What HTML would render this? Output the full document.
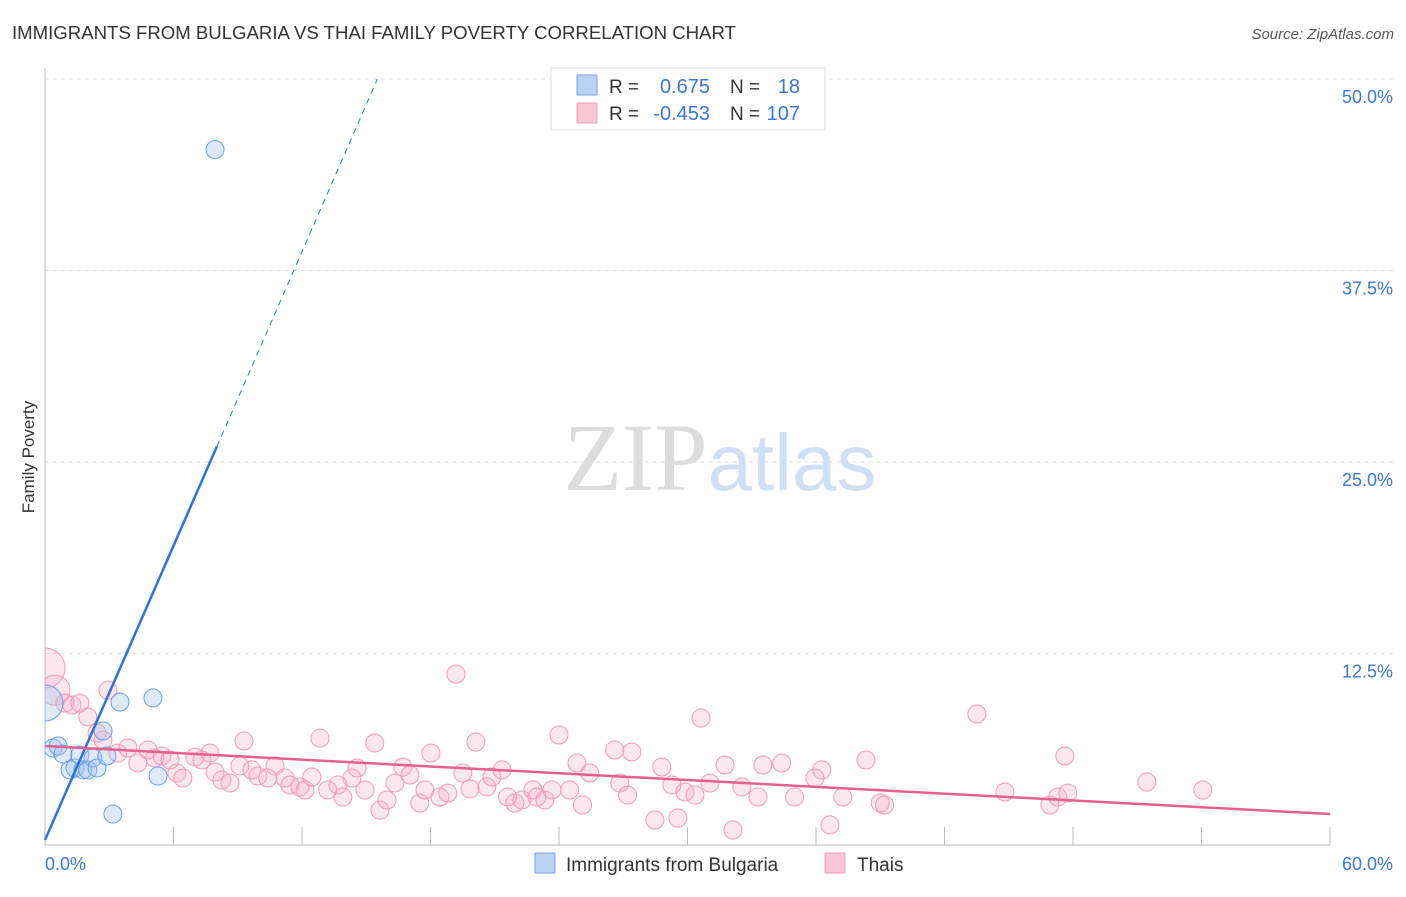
<!DOCTYPE html>
<html><head><meta charset="utf-8"><style>
body{margin:0;background:#fff;font-family:"Liberation Sans",sans-serif;}
svg text{font-family:"Liberation Sans",sans-serif;}
</style></head><body>
<svg id="chart" width="1406" height="892" xmlns="http://www.w3.org/2000/svg">
<defs><clipPath id="plotclip"><rect x="45" y="60" width="1360" height="786"/></clipPath></defs>
<text x="12" y="39" font-size="18.6" fill="#333">IMMIGRANTS FROM BULGARIA VS THAI FAMILY POVERTY CORRELATION CHART</text>
<text x="1394" y="39" font-size="15" fill="#555" text-anchor="end" font-style="italic">Source: ZipAtlas.com</text>
<text transform="translate(34,457) rotate(-90)" font-size="17" fill="#333" text-anchor="middle">Family Poverty</text>
<text x="720" y="490" font-size="96" text-anchor="middle"><tspan fill="#dcdcdc" font-family="Liberation Serif">ZIP</tspan><tspan fill="#cfe0f5" font-size="80">atlas</tspan></text>
<g id="grid"></g><g id="axes"></g><g id="pts" clip-path="url(#plotclip)"></g><g id="trends"></g>
<g>
<rect x="551" y="68" width="274" height="62" fill="#fff" stroke="#ddd"/>
<rect x="577" y="75" width="20" height="20" fill="#b8d2f4" stroke="#7aa7e0"/>
<rect x="577" y="103" width="20" height="20" fill="#f9c6d6" stroke="#ef9fba"/>
<text x="609" y="93" font-size="19" fill="#333">R =</text><text x="710" y="93" font-size="20" fill="#3b78d8" text-anchor="end">0.675</text>
<text x="730" y="93" font-size="19" fill="#333">N =</text><text x="800" y="93" font-size="20" fill="#3b78d8" text-anchor="end">18</text>
<text x="609" y="120" font-size="19" fill="#333">R =</text><text x="710" y="120" font-size="20" fill="#3b78d8" text-anchor="end">-0.453</text>
<text x="730" y="120" font-size="19" fill="#333">N =</text><text x="800" y="120" font-size="20" fill="#3b78d8" text-anchor="end">107</text>
</g>
<g>
<rect x="535" y="853" width="20" height="20" fill="#b8d2f4" stroke="#7aa7e0"/>
<text x="566" y="871" font-size="19" fill="#333">Immigrants from Bulgaria</text>
<rect x="825" y="853" width="20" height="20" fill="#f9c6d6" stroke="#ef9fba"/>
<text x="857" y="871" font-size="19" fill="#333">Thais</text>
</g>
</svg>
<script>
const xTicks=[0,6,12,18,24,30,36,42,48,54,60];
const yTicks=[12.5,25,37.5,50];
const yTickLabels=["12.5%","25.0%","37.5%","50.0%"];
const xEndLabels=["0.0%","60.0%"];
const blueX=[0,0.37,0.61,0.84,1.17,1.4,1.63,1.77,2.0,2.24,2.43,2.71,2.89,3.5,3.17,5.04,5.28,7.94];
const blueY=[9.27,6.33,6.46,5.94,4.9,5.03,5.87,4.9,4.9,5.68,5.03,7.44,5.81,9.33,2.02,9.6,4.5,45.4];
const blueR=[18,9,9,9,9,9,9,9,9,9,9,9,9,9,9,9,9,9];
const pinkX=[0,0.47,0.93,1.26,1.63,2.0,2.43,2.94,2.71,3.4,3.87,4.33,4.81,5.13,5.46,5.84,6.16,6.44,7.0,7.33,7.7,7.94,8.26,8.64,9.29,9.1,9.66,9.94,10.4,10.74,11.2,11.44,11.9,12.14,12.46,12.84,13.2,13.68,13.91,14.33,14.57,14.94,15.4,15.64,15.97,16.34,16.71,17.04,17.5,17.74,18.02,18.44,18.81,19.19,19.51,19.84,20.12,20.63,20.87,21.34,21.6,21.94,22.27,22.78,22.97,23.34,23.67,24.0,24.5,24.84,25.1,25.44,26.6,26.84,27.2,27.4,28.48,28.8,29.27,29.55,29.88,30.35,30.63,31.05,31.75,32.12,32.54,33.29,33.52,34.4,35.0,35.95,36.27,36.65,37.25,38.33,39.0,39.2,43.51,44.82,46.92,47.29,47.62,47.76,51.45,54.06];
const pinkY=[11.55,10.1,9.27,9.14,9.27,8.36,7.31,10.1,6.85,6.0,6.33,5.35,6.2,5.68,5.81,5.55,4.7,4.37,5.74,5.55,6.0,4.76,4.24,4.05,6.79,5.16,4.9,4.5,4.37,5.16,4.37,3.92,3.79,3.59,4.44,6.98,3.59,3.92,3.13,4.37,5.03,3.59,6.66,2.28,2.94,4.05,5.09,4.57,2.74,3.59,6.0,3.13,3.39,11.16,4.7,3.66,6.72,3.79,4.44,4.9,3.13,2.74,2.94,3.59,3.13,2.94,3.59,7.18,3.59,5.35,2.61,4.7,6.2,4.05,3.26,6.07,1.63,5.09,3.92,1.76,3.46,3.26,8.29,4.05,5.22,0.98,3.79,3.13,5.22,5.35,3.13,4.37,4.9,1.31,3.13,5.55,2.74,2.61,8.55,3.46,2.61,3.13,5.81,3.39,4.11,3.59];
const pinkR=pinkX.map((v,i)=>i==0?20:(i==1?15:9));
const blueTrend=[0.33,3.2];
const pinkTrend=[6.46,-0.074];
const NS="http://www.w3.org/2000/svg";
const X=v=>45+v/60*1285, Y=v=>845-v*15.32;
function mk(tag,attrs,parent){const e=document.createElementNS(NS,tag);for(const k in attrs)e.setAttribute(k,attrs[k]);document.getElementById(parent).appendChild(e);return e;}
yTicks.forEach((t,i)=>{
 const l=mk('line',{x1:45,x2:1394,y1:Y(t),y2:Y(t),stroke:'#ddd','stroke-dasharray':'4,4'},'grid');
 
 
 const tx=mk('text',{x:1393,y:Y(t)+24,'font-size':18,fill:'#3b78d8','text-anchor':'end'},'grid');tx.textContent=yTickLabels[i];
 
 
});
const ax=mk('line',{x1:45,x2:45,y1:68,y2:845,stroke:'#bbb'},'axes');


const bx=mk('line',{x1:45,x2:1330,y1:845,y2:845,stroke:'#bbb'},'axes');


xTicks.forEach(t=>{const l=mk('line',{x1:X(t),x2:X(t),y1:827,y2:845,stroke:'#bbb'},'axes');
 
 });
const l0=mk('text',{x:45,y:870,'font-size':18,fill:'#3b78d8'},'axes');l0.textContent=xEndLabels[0];


const l1=mk('text',{x:1393,y:870,'font-size':18,fill:'#3b78d8','text-anchor':'end'},'axes');l1.textContent=xEndLabels[1];


pinkX.forEach((v,i)=>{const c=mk('circle',{cx:X(v),cy:Y(pinkY[i]),r:pinkR[i],fill:'rgba(246,170,196,0.28)',stroke:'#f09ab7','stroke-width':1},'pts');
 
 });
blueX.forEach((v,i)=>{const c=mk('circle',{cx:X(v),cy:Y(blueY[i]),r:blueR[i],fill:'rgba(160,196,240,0.35)',stroke:'#6a9fe0','stroke-width':1},'pts');
 
 });
const bEnd=8.03, bDash=(50-blueTrend[0])/blueTrend[1];
const t1=mk('line',{x1:X(0),y1:Y(blueTrend[0]),x2:X(bEnd),y2:Y(blueTrend[0]+blueTrend[1]*bEnd),stroke:'#2f72d8','stroke-width':2.5},'trends');


const t2=mk('line',{x1:X(bEnd),y1:Y(blueTrend[0]+blueTrend[1]*bEnd),x2:X(bDash),y2:Y(50),stroke:'#2f72d8','stroke-width':1,'stroke-dasharray':'6,5'},'trends');


const t3=mk('line',{x1:X(0),y1:Y(pinkTrend[0]),x2:X(60),y2:Y(pinkTrend[0]+pinkTrend[1]*60),stroke:'#e6608e','stroke-width':2.5},'trends');


</script>
</body></html>
